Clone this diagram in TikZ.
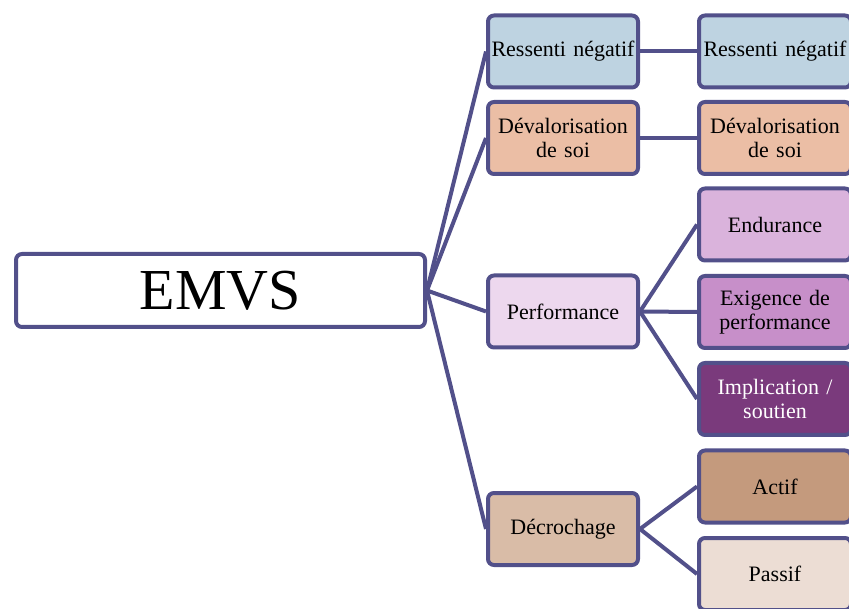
\documentclass[tikz,border=0pt]{standalone}
\usepackage{fontspec}
\setmainfont{Liberation Serif}
\usetikzlibrary{backgrounds}
\definecolor{edge}{HTML}{52508A}
\definecolor{cBlue}{HTML}{BED3E1}
\definecolor{cSalmon}{HTML}{EBBEA5}
\definecolor{cPerf}{HTML}{EDD8EE}
\definecolor{cEnd}{HTML}{DAB3DC}
\definecolor{cExi}{HTML}{C78FC9}
\definecolor{cImp}{HTML}{7A3A7C}
\definecolor{cDec}{HTML}{D9BCA7}
\definecolor{cAct}{HTML}{C49A7D}
\definecolor{cPas}{HTML}{ECDDD4}
\tikzset{
  box/.style={draw=edge, line width=4pt, rounded corners=6pt, align=center,
    inner sep=2pt, font=\fontsize{22}{24}\selectfont, text=black},
  lvlone/.style={box, minimum width=148pt, minimum height=72pt, text width=146pt},
  lvltwo/.style={box, minimum width=150pt, minimum height=72pt, text width=148pt},
  conn/.style={draw=edge, line width=4pt}
}
\begin{document}
\begin{tikzpicture}[x=1pt,y=-1pt]
\useasboundingbox (0,0) rectangle (849,609);
\node[box, fill=white, minimum width=409pt, minimum height=73pt, font=\fontsize{58}{60}\selectfont] (emvs) at (220.5,290.5) {EMVS};
\node[lvlone, fill=cBlue] (a1) at (563,51.5) {Ressenti négatif};
\node[lvlone, fill=cSalmon] (a2) at (563,138) {Dévalorisation\\de soi};
\node[lvlone, fill=cPerf] (a3) at (563,311.5) {Performance};
\node[lvlone, fill=cDec] (a4) at (563,529) {Décrochage};
\node[lvltwo, fill=cBlue] (b1) at (775,51.5) {Ressenti négatif};
\node[lvltwo, fill=cSalmon] (b2) at (775,138) {Dévalorisation\\de soi};
\node[lvltwo, fill=cEnd] (b3) at (775,224.5) {Endurance};
\node[lvltwo, fill=cExi] (b4) at (775,312) {Exigence de\\performance};
\node[lvltwo, fill=cImp, text=white] (b5) at (775,399) {Implication /\\soutien};
\node[lvltwo, fill=cAct] (b6) at (775,486.5) {Actif};
\node[lvltwo, fill=cPas] (b7) at (775,574) {Passif};
\begin{scope}[on background layer]
\draw[conn] (emvs.east) -- (a1.west);
\draw[conn] (emvs.east) -- (a2.west);
\draw[conn] (emvs.east) -- (a3.west);
\draw[conn] (emvs.east) -- (a4.west);
\draw[conn] (a1.east) -- (b1.west);
\draw[conn] (a2.east) -- (b2.west);
\draw[conn] (a3.east) -- (b3.west);
\draw[conn] (a3.east) -- (b4.west);
\draw[conn] (a3.east) -- (b5.west);
\draw[conn] (a4.east) -- (b6.west);
\draw[conn] (a4.east) -- (b7.west);
\end{scope}
\end{tikzpicture}
\end{document}
